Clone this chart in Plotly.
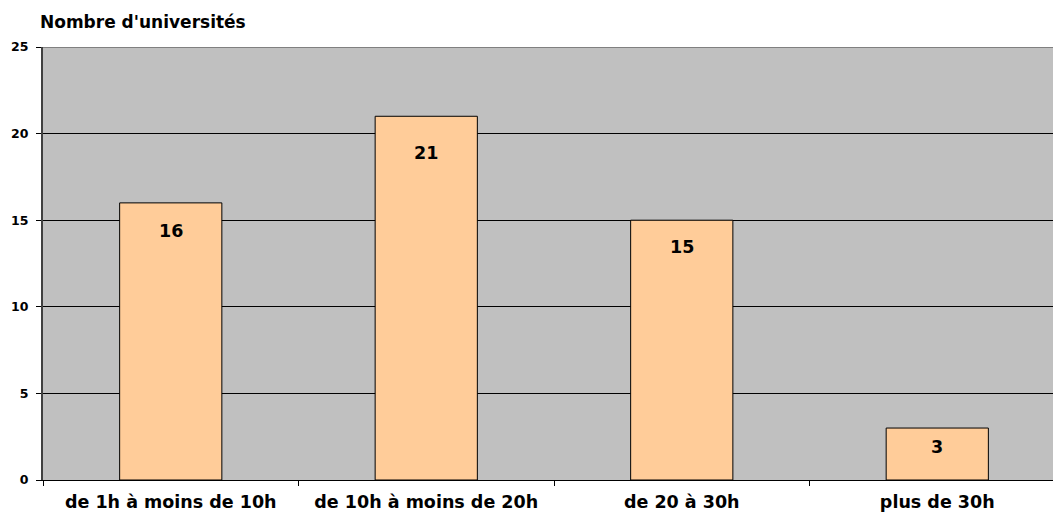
import plotly.graph_objects as go

# Volume horaire de la formation : nombre d'universités par tranche
categories = ["de 1h à moins de 10h", "de 10h à moins de 20h", "de 20 à 30h", "plus de 30h"]
universites = [16, 21, 15, 3]

# décalage vertical (px) des étiquettes sous le haut de chaque barre
label_shift = [-28, -37, -27, -19]

FONT = "DejaVu Sans"

fig = go.Figure(
    go.Bar(
        x=categories,
        y=universites,
        width=0.4,
        marker=dict(color="#FFCC99", line=dict(color="#000000", width=1)),
        hoverinfo="x+y",
    )
)

for cat, val, dy in zip(categories, universites, label_shift):
    fig.add_annotation(
        x=cat, y=val, yshift=dy, text=f"<b>{val}</b>", showarrow=False,
        xanchor="center", yanchor="middle",
        font=dict(family=FONT, size=17.5, color="#000000"),
    )

# cadre supérieur de la zone de traçage
fig.add_shape(type="line", xref="paper", yref="y", x0=0, x1=1, y0=25, y1=25,
              line=dict(color="#808080", width=2), layer="above")

fig.update_layout(
    width=1053, height=512,
    margin=dict(l=43, r=0, t=47, b=32),
    paper_bgcolor="#FFFFFF",
    plot_bgcolor="#C0C0C0",
    showlegend=False,
    bargap=0.6,
    title=dict(
        text="<b>Nombre d'universités</b>",
        x=40 / 1053, xanchor="left", xref="container",
        y=1 - 22 / 512, yanchor="middle", yref="container",
        font=dict(family=FONT, size=17, color="#000000"),
    ),
    xaxis=dict(
        type="category",
        range=[-0.5, 3.453],
        tickson="boundaries",
        ticks="outside", ticklen=5, tickcolor="#000000", tickwidth=1,
        showline=True, linecolor="#000000", linewidth=1,
        showgrid=False,
        tickfont=dict(family=FONT, size=17.5, color="#000000", weight="bold"),
        ticklabelstandoff=6,
        fixedrange=True,
    ),
    yaxis=dict(
        range=[0, 25],
        tickvals=[0, 5, 10, 15, 20, 25],
        ticks="outside", ticklen=5, tickcolor="#000000", tickwidth=1,
        showline=True, linecolor="#404040", linewidth=2,
        showgrid=True, gridcolor="#000000", gridwidth=1,
        zeroline=False,
        tickfont=dict(family=FONT, size=12.5, color="#000000", weight="bold"),
        ticklabelstandoff=5,
        fixedrange=True,
    ),
)

fig.write_html("out.html")
